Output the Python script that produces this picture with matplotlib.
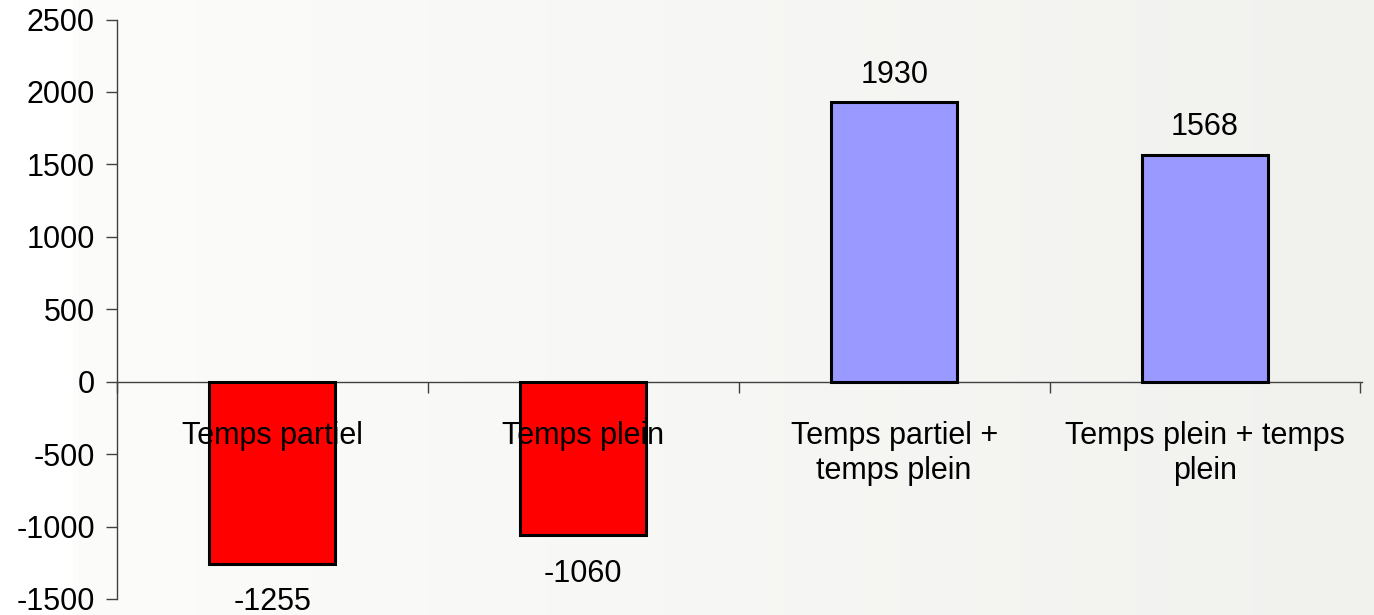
import numpy as np
import matplotlib.pyplot as plt

plt.rcParams['font.family'] = ['Liberation Sans', 'DejaVu Sans']
plt.rcParams['axes.unicode_minus'] = False

categories = ["Temps partiel", "Temps plein", "Temps partiel +\ntemps plein", "Temps plein + temps\nplein"]
values = [-1255, -1060, 1930, 1568]
colors = ['#FF0000', '#FF0000', '#9999FF', '#9999FF']

fig = plt.figure(figsize=(13.74, 6.15), dpi=100)
fig.patch.set_facecolor('white')

# background gradient behind the chart
bg = fig.add_axes([73/1374, 0, 1 - 73/1374, 1], zorder=0)
grad = np.linspace(0, 1, 256).reshape(1, -1)
c0 = np.array([252, 252, 251]) / 255
c1 = np.array([241, 242, 238]) / 255
img = c0[None, None, :] * (1 - grad[..., None]) + c1[None, None, :] * grad[..., None]
bg.imshow(img, aspect='auto', extent=[0, 1, 0, 1])
bg.axis('off')

ax = fig.add_axes([117/1374, 1 - 599/615, (1362 - 117)/1374, (599 - 19.5)/615], zorder=1)
ax.patch.set_alpha(0)

x = np.arange(len(categories))
ax.bar(x, values, width=0.405, color=colors, edgecolor='black', linewidth=2.2, zorder=3)

ax.set_xlim(-0.495, len(categories) - 0.495)
ax.set_ylim(-1500, 2500)
ax.set_yticks(np.arange(-1500, 2501, 500))
ax.tick_params(axis='y', labelsize=22, length=8, width=1, color='#404040', direction='out', pad=8)

ax.spines['top'].set_visible(False)
ax.spines['right'].set_visible(False)
ax.spines['bottom'].set_position(('data', 0))
ax.spines['left'].set_color('#404040')
ax.spines['bottom'].set_color('#404040')
ax.spines['left'].set_linewidth(1)
ax.spines['bottom'].set_linewidth(1)

ax.set_xticks(np.arange(-0.5, len(categories), 1.0))
ax.set_xticklabels([])
ax.tick_params(axis='x', length=8, width=1, color='#404040', direction='out')

for xi, cat in zip(x, categories):
    ax.annotate(cat, (xi, 0), xytext=(0, -28), textcoords='offset points',
                ha='center', va='top', fontsize=22, linespacing=1.25, zorder=4)

for xi, v in zip(x, values):
    if v >= 0:
        ax.annotate(str(v), (xi, v), xytext=(0, 9), textcoords='offset points',
                    ha='center', va='bottom', fontsize=22, zorder=4)
    else:
        ax.annotate(str(v), (xi, v), xytext=(0, -17), textcoords='offset points',
                    ha='center', va='top', fontsize=22, zorder=4)

fig.savefig('out.png', dpi=100)
